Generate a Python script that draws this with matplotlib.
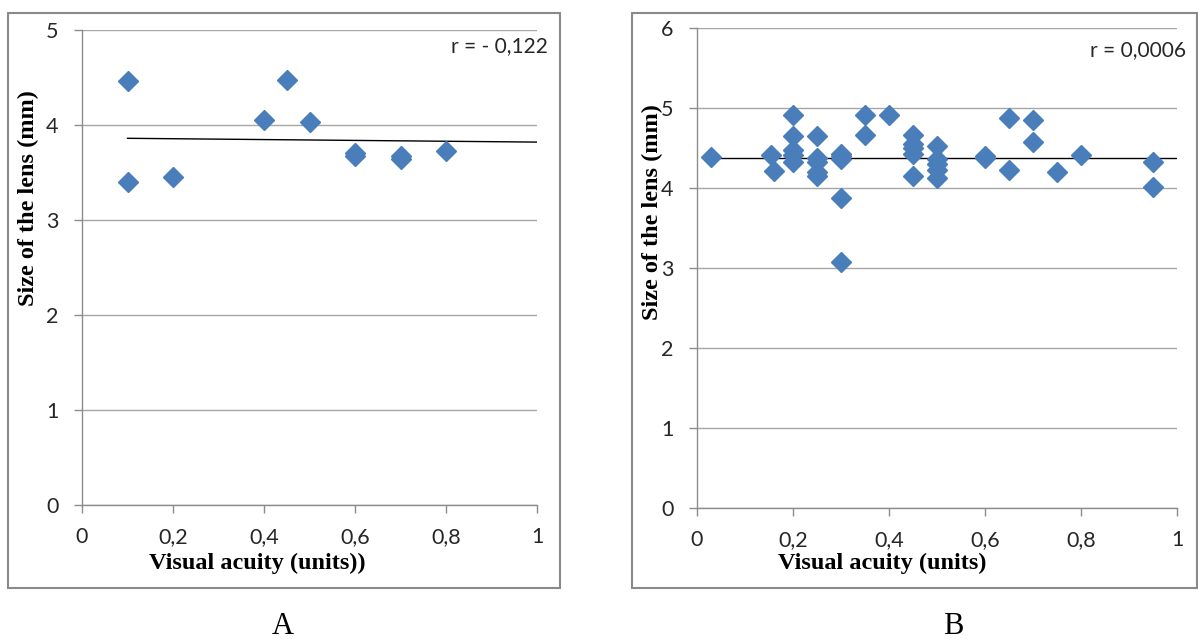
import matplotlib
matplotlib.use("Agg")
import matplotlib.pyplot as plt
from matplotlib.patches import Rectangle

# ---- Data ----
# Panel A
a_x = [0.1, 0.1, 0.2, 0.4, 0.45, 0.5, 0.6, 0.6, 0.7, 0.7, 0.8]
a_y = [4.46, 3.40, 3.45, 4.05, 4.47, 4.03, 3.71, 3.67, 3.67, 3.64, 3.73]
a_trend_x = [0.1, 1.0]
a_trend_y = [3.86, 3.82]
a_r_text = "r = - 0,122"

# Panel B
b_x = [0.03, 0.155, 0.16,
       0.2, 0.2, 0.2, 0.2, 0.2,
       0.25, 0.25, 0.25, 0.25, 0.25,
       0.3, 0.3, 0.3, 0.3, 0.3,
       0.35, 0.35, 0.4,
       0.45, 0.45, 0.45, 0.45, 0.45,
       0.5, 0.5, 0.5, 0.5, 0.5,
       0.6, 0.6, 0.65, 0.65, 0.7, 0.7, 0.75, 0.8, 0.95, 0.95]
b_y = [4.39, 4.41, 4.21,
       4.91, 4.65, 4.47, 4.41, 4.32,
       4.65, 4.37, 4.33, 4.20, 4.15,
       4.42, 4.36, 4.40, 3.88, 3.08,
       4.91, 4.66, 4.91,
       4.66, 4.55, 4.50, 4.43, 4.15,
       4.53, 4.36, 4.30, 4.22, 4.12,
       4.40, 4.38, 4.88, 4.23, 4.85, 4.58, 4.20, 4.41, 4.33, 4.01]
b_trend_x = [0.03, 1.0]
b_trend_y = [4.38, 4.38]
b_r_text = "r = 0,0006"

x_ticks = [0, 0.2, 0.4, 0.6, 0.8, 1]
x_ticklabels = ["0", "0,2", "0,4", "0,6", "0,8", "1"]
a_y_ticks = [0, 1, 2, 3, 4, 5]
b_y_ticks = [0, 1, 2, 3, 4, 5, 6]
y_label = "Size of the lens (mm)"
a_x_label = "Visual acuity (units))"
b_x_label = "Visual acuity (units)"
captions = ["A", "B"]

# ---- Style ----
W, H = 1198, 639
fig = plt.figure(figsize=(W / 100, H / 100), dpi=100)
marker_color = "#4a7ebb"
grid_color = "#a6a6a6"
axis_color = "#8c8c8c"
tick_font = "Lato"
label_font = "Liberation Serif"


def fx(px):
    return px / W


def fy(py):
    return 1 - py / H


def panel(box, axrect, xs, ys, tx, ty, rtext, yticks, xlabel, xlab_pos, ylab_pos,
          rpos, caption, cappos):
    x0, y0, x1, y1 = box
    fig.add_artist(Rectangle((fx(x0), fy(y1)), fx(x1) - fx(x0), fy(y0) - fy(y1),
                             transform=fig.transFigure, fill=False,
                             edgecolor="#8a8a8a", linewidth=1.5))
    l, t, r, b = axrect
    ax = fig.add_axes([fx(l), fy(b), fx(r) - fx(l), fy(t) - fy(b)])
    ax.set_xlim(0, 1)
    ax.set_ylim(yticks[0], yticks[-1])
    ax.set_xticks(x_ticks)
    ax.set_xticklabels(x_ticklabels)
    ax.set_yticks(yticks)
    ax.set_yticklabels([str(v) for v in yticks])
    for sp in ["top", "right"]:
        ax.spines[sp].set_visible(False)
    for sp in ["left", "bottom"]:
        ax.spines[sp].set_color(axis_color)
        ax.spines[sp].set_linewidth(1.0)
    ax.yaxis.grid(True, color=grid_color, linewidth=1.0)
    ax.set_axisbelow(True)
    ax.tick_params(axis="both", colors=axis_color, length=6, width=1.0,
                   direction="out", labelcolor="#262626", labelsize=15.5)
    ax.tick_params(axis="x", pad=10)
    ax.tick_params(axis="y", pad=11)
    for lab in ax.get_xticklabels() + ax.get_yticklabels():
        lab.set_fontfamily(tick_font)
    ax.plot(tx, ty, color="black", linewidth=1.0, zorder=2)
    ax.plot(xs, ys, linestyle="none", marker="D", markersize=10,
            color=marker_color, markeredgecolor=marker_color, zorder=3)
    # axis titles placed where the reference shows them
    w_px = r - l
    h_px = b - t
    fig.text(fx(xlab_pos[0]), fy(xlab_pos[1]), xlabel, fontfamily=label_font,
             fontweight="bold", fontsize=17.5, ha="center", va="center")
    fig.text(fx(ylab_pos[0]), fy(ylab_pos[1]), y_label, fontfamily=label_font,
             fontweight="bold", fontsize=17.5, ha="center", va="center",
             rotation=90)
    fig.text(fx(rpos[0]), fy(rpos[1]), rtext, fontfamily=tick_font, fontsize=15,
             ha="center", va="center", color="#262626")
    fig.text(fx(cappos[0]), fy(cappos[1]), caption, fontfamily=label_font,
             fontsize=22, ha="center", va="center", color="black")
    return ax


panel((8, 13, 560, 588), (82, 30, 537, 505), a_x, a_y, a_trend_x, a_trend_y,
      a_r_text, a_y_ticks, a_x_label, (257, 563), (28, 198), (499, 46),
      captions[0], (283, 626))
panel((632, 13, 1197, 588), (697, 28, 1177, 508), b_x, b_y, b_trend_x, b_trend_y,
      b_r_text, b_y_ticks, b_x_label, (882, 563), (652, 212), (1138, 50),
      captions[1], (953, 626))

fig.savefig("out.png", dpi=100, facecolor="white")
